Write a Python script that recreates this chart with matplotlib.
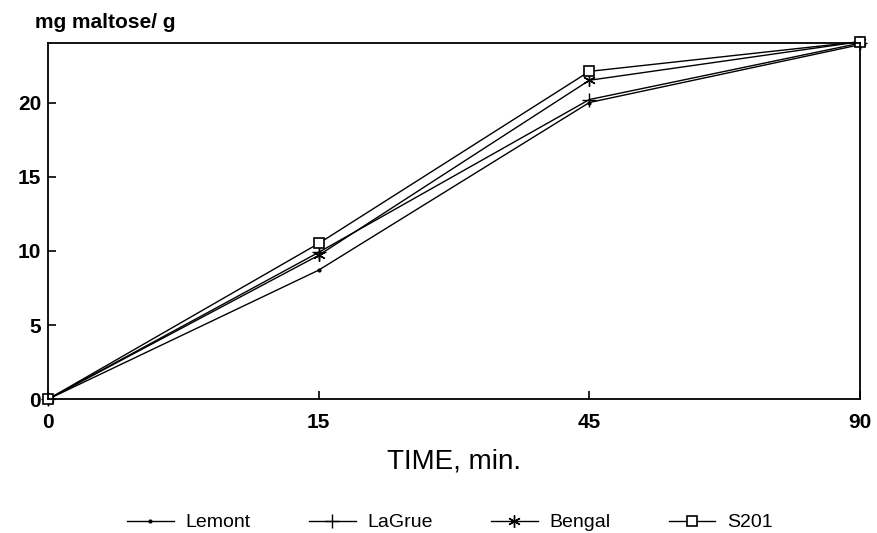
import matplotlib
matplotlib.use("Agg")
import matplotlib.pyplot as plt

times = ["0", "15", "45", "90"]
lemont = [0, 8.7, 20.0, 23.9]
lagrue = [0, 9.9, 20.2, 24.0]
bengal = [0, 9.7, 21.5, 24.1]
s201 = [0, 10.5, 22.1, 24.1]

plt.rcParams['font.family'] = ['Liberation Sans', 'DejaVu Sans']

fig = plt.figure(figsize=(8.77, 5.33), dpi=100)
ax = fig.add_axes([0.0547, 0.251, 0.926, 0.668])

x = range(len(times))
ax.plot(x, lemont, color="black", lw=1, marker=".", ms=4, label="Lemont", clip_on=False)
ax.plot(x, lagrue, color="black", lw=1, marker="+", ms=10, mew=1, label="LaGrue", clip_on=False)
ax.plot(x, bengal, color="black", lw=1, marker=(6, 2, 0), ms=9, mew=1, label="Bengal", clip_on=False)
ax.plot(x, s201, color="black", lw=1, marker="s", ms=7, mfc="white", mew=1.2, label="S201", clip_on=False)

ax.set_xlim(0, 3)
ax.set_ylim(0, 24)
ax.set_xticks(list(x))
ax.set_xticklabels(times)
ax.set_yticks([0, 5, 10, 15, 20])
ax.tick_params(direction="in", length=6, width=1.2, labelsize=15)
ax.tick_params(axis="x", pad=10)
ax.tick_params(axis="y", pad=5)
for lab in ax.get_xticklabels() + ax.get_yticklabels():
    lab.set_fontweight("bold")
for s in ax.spines.values():
    s.set_linewidth(1.3)

ax.set_xlabel("TIME, min.", fontsize=20, labelpad=12)
fig.text(0.04, 0.948, "mg maltose/ g", fontsize=15, fontweight="bold")

fig.legend(loc="lower center", bbox_to_anchor=(0.513, -0.03), ncol=4, frameon=False,
           fontsize=14, handlelength=2.4, handletextpad=0.6, columnspacing=3.0)

fig.savefig("out.png", dpi=100)
